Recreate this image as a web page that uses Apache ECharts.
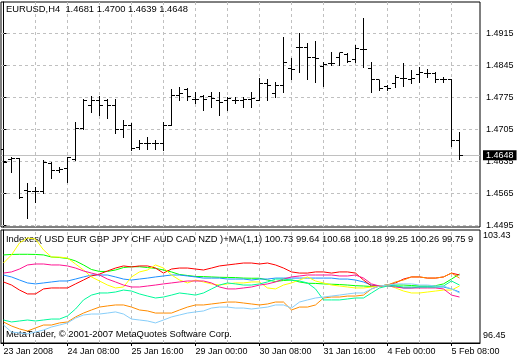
<!DOCTYPE html>
<html><head><meta charset="utf-8">
<script src="https://cdn.jsdelivr.net/npm/echarts@6/dist/echarts.min.js"></script>
<style>html,body{margin:0;padding:0;background:#fff}#c{width:520px;height:360px}</style>
</head><body><div id="c"></div>
<script>
// ---- bar times (H4) ----
const barTimes = [
 '23 Jan 00:00','23 Jan 04:00','23 Jan 08:00','23 Jan 12:00','23 Jan 16:00','23 Jan 20:00',
 '24 Jan 00:00','24 Jan 04:00','24 Jan 08:00','24 Jan 12:00','24 Jan 16:00','24 Jan 20:00',
 '25 Jan 00:00','25 Jan 04:00','25 Jan 08:00','25 Jan 12:00','25 Jan 16:00','25 Jan 20:00',
 '28 Jan 00:00','28 Jan 04:00','28 Jan 08:00','28 Jan 12:00','28 Jan 16:00','28 Jan 20:00',
 '29 Jan 00:00','29 Jan 04:00','29 Jan 08:00','29 Jan 12:00','29 Jan 16:00','29 Jan 20:00',
 '30 Jan 00:00','30 Jan 04:00','30 Jan 08:00','30 Jan 12:00','30 Jan 16:00','30 Jan 20:00',
 '31 Jan 00:00','31 Jan 04:00','31 Jan 08:00','31 Jan 12:00','31 Jan 16:00','31 Jan 20:00',
 '1 Feb 00:00','1 Feb 04:00','1 Feb 08:00','1 Feb 12:00','1 Feb 16:00','1 Feb 20:00',
 '4 Feb 00:00','4 Feb 04:00','4 Feb 08:00','4 Feb 12:00','4 Feb 16:00','4 Feb 20:00',
 '5 Feb 00:00','5 Feb 04:00','5 Feb 08:00','5 Feb 12:00'
];
const timeTickIndex = [0, 8, 16, 24, 32, 40, 48, 56];
const timeTickLabels = ['23 Jan 2008','24 Jan 08:00','25 Jan 16:00','29 Jan 00:00','30 Jan 08:00','31 Jan 16:00','4 Feb 00:00','5 Feb 08:00'];
const gridTickIndex = [4, 8, 12, 16, 20, 24, 28, 32, 36, 40, 44, 48, 52, 56];

// ---- EURUSD H4 OHLC ----
const open  = [1.4660,1.4640,1.4642,1.4572,1.4568,1.4568,1.4631,1.4614,1.4620,1.4638,
               1.4706,1.4756,1.4769,1.4769,1.4756,1.4704,1.4714,1.4666,1.4675,1.4675,
               1.4675,1.4714,1.4780,1.4791,1.4771,1.4776,1.4776,1.4769,1.4769,1.4769,
               1.4769,1.4771,1.4769,1.4806,1.4784,1.4800,1.4839,1.4883,1.4883,1.4861,
               1.4843,1.4848,1.4863,1.4868,1.4857,1.4879,1.4839,1.4813,1.4798,1.4806,
               1.4817,1.4815,1.4824,1.4828,1.4826,1.4815,1.4815,1.4681];
const high  = [1.4675,1.4644,1.4642,1.4588,1.4579,1.4638,1.4633,1.4623,1.4644,1.4721,
               1.4771,1.4778,1.4778,1.4771,1.4771,1.4725,1.4719,1.4682,1.4688,1.4682,
               1.4721,1.4793,1.4798,1.4795,1.4787,1.4780,1.4787,1.4787,1.4776,1.4776,
               1.4776,1.4787,1.4817,1.4815,1.4809,1.4907,1.4861,1.4916,1.4894,1.4898,
               1.4852,1.4874,1.4872,1.4872,1.4889,1.4949,1.4852,1.4813,1.4802,1.4824,
               1.4850,1.4835,1.4841,1.4837,1.4830,1.4819,1.4815,1.4700];
const low   = [1.4623,1.4612,1.4555,1.4511,1.4546,1.4566,1.4599,1.4612,1.4590,1.4638,
               1.4706,1.4743,1.4736,1.4730,1.4697,1.4688,1.4660,1.4662,1.4662,1.4662,
               1.4660,1.4714,1.4769,1.4769,1.4763,1.4747,1.4754,1.4736,1.4747,1.4763,
               1.4754,1.4754,1.4769,1.4769,1.4776,1.4787,1.4815,1.4830,1.4815,1.4809,
               1.4800,1.4846,1.4846,1.4852,1.4852,1.4841,1.4787,1.4791,1.4791,1.4798,
               1.4800,1.4806,1.4809,1.4819,1.4809,1.4809,1.4669,1.4639];
const close = [1.4633,1.4642,1.4555,1.4570,1.4570,1.4633,1.4614,1.4618,1.4644,1.4706,
               1.4769,1.4769,1.4756,1.4756,1.4704,1.4714,1.4664,1.4675,1.4675,1.4675,
               1.4714,1.4780,1.4784,1.4776,1.4771,1.4771,1.4773,1.4763,1.4773,1.4769,
               1.4771,1.4773,1.4806,1.4800,1.4800,1.4852,1.4835,1.4883,1.4861,1.4859,
               1.4846,1.4848,1.4872,1.4854,1.4881,1.4879,1.4813,1.4795,1.4795,1.4819,
               1.4817,1.4817,1.4830,1.4828,1.4815,1.4815,1.4680,1.4648];
const priceTicks = [1.4495, 1.4565, 1.4635, 1.4705, 1.4775, 1.4845, 1.4915];
const lastPrice = 1.4648;

// ---- currency indexes ----
const idxUSD = [101.89,101.92,101.93,101.93,101.92,101.89,101.76,101.73,101.67,101.52,
                101.27,100.99,100.87,100.87,100.96,101.11,101.16,101.16,101.11,101.06,
                100.96,100.84,100.68,100.62,100.56,100.55,100.53,100.51,100.50,100.49,
                100.46,100.45,100.45,100.34,100.25,100.31,100.34,100.22,100.14,100.13,
                100.10,100.08,100.06,100.03,99.99,99.97,99.94,99.97,100.03,100.03,
                100.03,100.00,99.97,99.97,99.99,100.10,100.40,100.71];
const idxEUR = [100.65,100.53,100.34,100.16,100.10,100.16,100.22,100.28,100.28,100.40,
                100.53,100.65,100.65,100.65,100.53,100.40,100.34,100.40,100.46,100.53,
                100.59,100.65,100.65,100.59,100.53,100.46,100.46,100.46,100.40,100.40,
                100.40,100.34,100.40,100.40,100.46,100.46,100.46,100.46,100.46,100.46,
                100.46,100.46,100.40,100.40,100.34,100.22,100.03,99.97,100.03,99.97,
                99.85,99.85,99.91,99.91,99.91,99.91,99.79,99.60];
const idxGBP = [100.22,100.03,99.72,99.48,99.48,99.79,99.85,99.85,99.85,100.10,
                100.34,100.59,100.71,100.90,101.08,101.21,101.15,101.21,101.21,101.08,
                100.77,101.02,101.08,101.08,101.02,100.96,101.08,101.21,101.27,101.33,
                101.39,101.39,101.33,101.39,101.27,101.08,100.84,100.77,100.77,100.84,
                100.84,100.77,100.84,100.84,100.77,100.34,99.97,99.97,100.03,100.16,
                100.40,100.53,100.53,100.46,100.46,100.53,100.77,100.65];
const idxJPY = [101.39,101.89,102.63,102.94,102.87,102.20,101.76,101.76,101.70,101.33,
                100.96,100.53,100.28,100.03,99.85,99.91,100.53,100.84,100.96,101.27,
                101.08,100.65,100.34,100.16,100.34,100.22,100.10,100.03,100.10,100.16,
                100.16,100.22,100.22,99.85,99.79,100.03,100.16,100.34,100.53,100.28,
                100.16,100.03,99.97,99.91,99.85,99.85,99.91,99.97,100.03,99.85,
                99.66,99.54,99.54,99.60,99.66,99.72,99.72,99.97];
const idxCHF = [100.77,100.84,101.02,101.27,101.33,101.33,101.27,101.27,101.21,101.08,
                100.90,100.77,100.65,100.40,100.22,100.03,99.91,99.91,99.97,100.03,
                100.10,100.16,100.22,100.28,100.28,100.28,100.16,99.91,99.79,99.79,
                99.85,99.91,100.03,100.10,100.22,100.40,100.53,100.59,100.65,100.65,
                100.65,100.65,100.59,100.59,100.65,100.46,100.10,99.97,99.97,99.91,
                99.85,99.85,99.85,99.85,99.85,99.79,99.41,99.29];
const idxAUD = [97.75,97.50,97.32,97.19,97.38,97.56,97.56,97.69,97.75,98.06,
                98.30,98.49,98.67,98.74,98.80,98.80,98.67,98.49,98.43,98.30,
                98.30,98.30,98.49,98.67,98.80,98.80,98.86,98.92,98.98,98.98,
                98.92,98.86,98.80,98.86,98.98,98.98,98.49,98.67,98.67,98.80,
                99.23,99.29,99.29,99.35,99.35,99.41,99.79,99.97,100.03,100.22,
                100.34,100.53,100.53,100.46,100.46,100.53,100.77,100.46];
const idxCAD = [97.87,97.75,97.81,97.87,97.81,97.87,97.93,97.93,98.12,98.55,
                99.11,99.41,99.54,99.54,99.60,99.72,99.66,99.48,99.35,99.23,
                99.29,99.41,99.54,99.48,99.41,99.54,99.79,100.03,100.16,100.10,
                100.03,100.03,100.10,100.22,100.40,100.40,100.34,100.28,100.16,99.79,
                99.11,99.11,99.11,99.17,99.23,99.23,99.54,99.85,99.97,99.97,
                99.91,99.91,99.91,99.91,99.91,99.97,100.28,100.03];
const idxNZD = [97.56,97.13,97.07,97.01,97.13,97.25,97.44,97.56,97.69,97.99,
                98.18,98.24,98.24,98.30,98.37,98.24,97.93,97.87,97.81,97.69,
                97.87,98.06,98.18,98.30,98.37,98.43,98.61,98.67,98.67,98.61,
                98.61,98.55,98.61,98.67,98.80,98.80,98.61,98.98,99.11,99.23,
                99.29,99.35,99.41,99.48,99.54,99.54,99.79,99.97,100.03,100.10,
                100.10,100.10,100.03,100.03,99.97,99.97,99.79,99.54];
const currencyNames = ['USD','EUR','GBP','JPY','CHF','AUD','CAD','NZD'];
const currencyColors = ['#00ff00','#1e90ff','#ff0000','#ffff00','#ff1493','#ff8c00','#00fa9a','#87cefa'];
const currencyLast = ['100.73','99.64','100.68','100.18','99.25','100.26','99.75','99.54'];
const indexBounds = [96.45, 103.43];

const idxSeries = [idxUSD, idxEUR, idxGBP, idxJPY, idxCHF, idxAUD, idxCAD, idxNZD];

const FONT = 'Liberation Sans';
const chart = echarts.init(document.getElementById('c'), null, {renderer: 'canvas'});

const ohlcData = barTimes.map((t, i) => [i, open[i], high[i], low[i], close[i]]);
const snap = v => Math.round(v - 0.5) + 0.5;

function renderBar(params, api) {
  const i = api.value(0);
  const x = snap(api.coord([i, api.value(1)])[0]);
  const yo = snap(api.coord([i, api.value(1)])[1]);
  const yh = api.coord([i, api.value(2)])[1];
  const yl = api.coord([i, api.value(3)])[1];
  const yc = snap(api.coord([i, api.value(4)])[1]);
  const st = {stroke: '#000', lineWidth: 1};
  return {type: 'group', children: [
    {type: 'line', shape: {x1: x, y1: Math.round(yh), x2: x, y2: Math.round(yl) + 1}, style: st},
    {type: 'line', shape: {x1: x - 3.5, y1: yo, x2: x, y2: yo}, style: st},
    {type: 'line', shape: {x1: x, y1: yc, x2: x + 3.5, y2: yc}, style: st}
  ]};
}

const gridLineStyle = {color: '#c0c0c0', type: [3, 3], width: 1};
const xMin = -0.3125, xMax = 59.5625;

const lineSeries = idxSeries.map((arr, k) => ({
  name: currencyNames[k],
  type: 'line', xAxisIndex: 1, yAxisIndex: 1,
  data: arr.map((v, i) => [i, v]),
  showSymbol: false, symbol: 'none', z: 3 + k,
  lineStyle: {color: currencyColors[k], width: 1},
  itemStyle: {color: currencyColors[k]},
  animation: false
}));
lineSeries[0].markLine = {
  silent: true, symbol: 'none', z: 1, animation: false, precision: 6,
  label: {show: false},
  lineStyle: gridLineStyle,
  data: gridTickIndex.map(v => ({xAxis: v}))
};

const option = {
  animation: false,
  backgroundColor: '#ffffff',
  textStyle: {fontFamily: FONT},
  title: [
    {text: 'EURUSD,H4  ' + [open[57], high[57], low[57], close[57]].map(v => v.toFixed(4)).join(' '),
     left: 6, top: 5, padding: 0,
     textStyle: {fontFamily: FONT, fontSize: 9.4, fontWeight: 'normal', color: '#000'}},
    {text: 'Indexes( ' + currencyNames.join(' ') + ' )+MA(1,1) ' + currencyLast.join(' '),
     left: 6, top: 235, padding: 0,
     textStyle: {fontFamily: FONT, fontSize: 9.4, fontWeight: 'normal', color: '#000',
                 width: 473, overflow: 'truncate', ellipsis: ''}},
    {text: 'MetaTrader, © 2001-2007 MetaQuotes Software Corp.',
     left: 6, top: 330, padding: 0,
     textStyle: {fontFamily: FONT, fontSize: 9.4, fontWeight: 'normal', color: '#000'}}
  ],
  grid: [
    {left: 1, top: 2, width: 479, height: 225, show: true, borderColor: '#000', borderWidth: 1, backgroundColor: '#fff'},
    {left: 1, top: 230, width: 479, height: 113, show: true, borderColor: '#000', borderWidth: 1, backgroundColor: '#fff'}
  ],
  xAxis: [
    {type: 'value', gridIndex: 0, min: xMin, max: xMax,
     axisLine: {show: false}, axisTick: {show: false}, axisLabel: {show: false}, splitLine: {show: false}},
    {type: 'value', gridIndex: 1, min: xMin, max: xMax,
     axisLine: {show: true, lineStyle: {color: '#000'}},
     axisTick: {show: true, length: 3, customValues: timeTickIndex, lineStyle: {color: '#000'}},
     axisLabel: {show: true, customValues: timeTickIndex, align: 'left', margin: 4,
       color: '#000', fontSize: 9, fontFamily: FONT,
       formatter: v => timeTickLabels[timeTickIndex.indexOf(Math.round(v))] || ''},
     splitLine: {show: false}}
  ],
  yAxis: [
    {type: 'value', gridIndex: 0, position: 'right', min: 1.44913, max: 1.49835,
     axisLine: {show: true, lineStyle: {color: '#000'}},
     axisTick: {show: true, length: 3, customValues: priceTicks, lineStyle: {color: '#000'}},
     axisLabel: {show: true, customValues: priceTicks, margin: 6, color: '#000', fontSize: 9, fontFamily: FONT,
       formatter: v => v.toFixed(4)},
     splitLine: {show: false}},
    {type: 'value', gridIndex: 1, position: 'right', min: indexBounds[0], max: indexBounds[1],
     axisLine: {show: true, lineStyle: {color: '#000'}},
     axisTick: {show: false},
     axisLabel: {show: true, customValues: indexBounds, margin: 3, color: '#000', fontSize: 9, fontFamily: FONT,
       formatter: v => v > 100 ? '{t|' + v.toFixed(2) + '}' : '{b|' + v.toFixed(2) + '}',
       rich: {t: {padding: [12, 0, 0, 0], fontSize: 9, fontFamily: FONT, color: '#000'},
              b: {padding: [0, 0, 14, 0], fontSize: 9, fontFamily: FONT, color: '#000'}}},
     splitLine: {show: false}}
  ],
  series: [
    {type: 'custom', name: 'EURUSD', xAxisIndex: 0, yAxisIndex: 0, z: 3,
     renderItem: renderBar, data: ohlcData, encode: {x: 0, y: [1, 2, 3, 4]},
     clip: true, animation: false,
     markLine: {
       silent: true, symbol: 'none', z: 1, animation: false, precision: 6,
       label: {show: false},
       lineStyle: gridLineStyle,
       data: priceTicks.map(v => ({yAxis: v}))
         .concat(gridTickIndex.map(v => ({xAxis: v})))
         .concat([{yAxis: lastPrice,
           lineStyle: {type: 'solid', color: '#c0c0c0', width: 1},
           label: {show: true, position: 'end', distance: 3, formatter: lastPrice.toFixed(4),
             color: '#fff', backgroundColor: '#000', padding: [1, 3, 0, 3], fontSize: 9, fontFamily: FONT}}])
     }}
  ].concat(lineSeries)
};
chart.setOption(option);
</script></body></html>
